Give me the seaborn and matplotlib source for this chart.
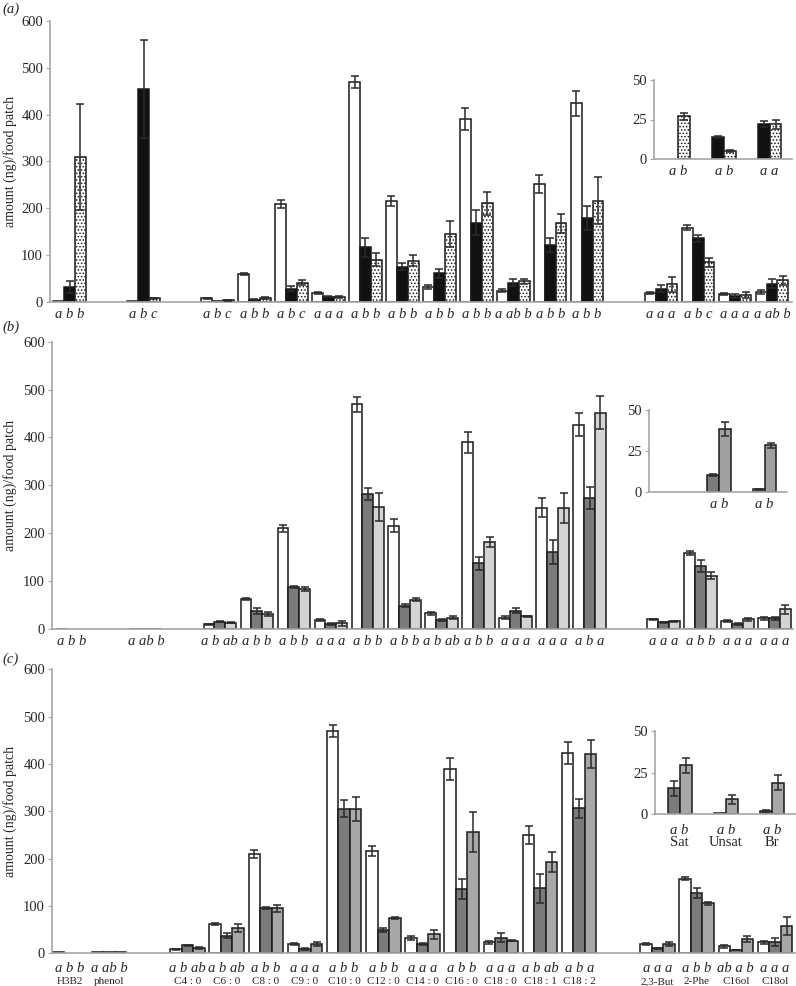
import numpy as np
import pandas as pd
import seaborn as sns
import matplotlib
matplotlib.use("agg")
import matplotlib.pyplot as plt

sns.set_style("white")
plt.rcParams["font.family"] = "serif"
plt.rcParams["font.serif"] = ["Liberation Serif", "DejaVu Serif"]
plt.rcParams["hatch.linewidth"] = 0.7

compounds = ["H3B2", "phenol", "C4 : 0", "C6 : 0", "C8 : 0", "C9 : 0", "C10 : 0",
             "C12 : 0", "C14 : 0", "C16 : 0", "C18 : 0", "C18 : 1", "C18 : 2",
             "2,3-But", "2-Phe", "C16ol", "C18ol"]
# empty slots between the compound blocks
order_ab = compounds[:1] + ["gap1"] + compounds[1:2] + ["gap2"] + compounds[2:13] + ["gap3"] + compounds[13:]
order_c = compounds[:2] + ["gap2"] + compounds[2:13] + ["gap3"] + compounds[13:]
groups = ["Sat", "Unsat", "Br"]
series = ["s1", "s2", "s3"]

# panel (a)
a_vals = {
    "s1": [2, 2, 9, 61, 210, 19, 470, 216, 32, 390, 25, 252, 424, 20, 159, 18, 22],
    "s2": [32, 455, 2, 5, 29, 12, 117, 76, 62, 170, 42, 122, 180, 29, 136, 13, 40],
    "s3": [310, 9, 4, 9, 42, 12, 91, 89, 145, 211, 45, 168, 216, 38, 85, 15, 47],
}
a_errs = {
    "s1": [0, 0, 1, 2, 9, 2, 13, 11, 4, 23, 4, 19, 26, 2, 5, 2, 4],
    "s2": [13, 104, 0, 1, 5, 1, 21, 8, 10, 26, 8, 15, 26, 8, 7, 4, 10],
    "s3": [113, 1, 1, 2, 5, 2, 14, 12, 28, 25, 5, 21, 50, 15, 10, 6, 10],
}
a_letters = ["a b b", "a b c", "a b c", "a b b", "a b c", "a a a", "a b b", "a b b", "a b b",
             "a b b", "a ab b", "a b b", "a b b", "a a a", "a b c", "a a a", "a ab b"]

# panel (b)
b_vals = {
    "s1": [1, 1, 10, 63, 210, 19, 469, 216, 33, 390, 24, 253, 427, 20, 159, 17, 22],
    "s2": [np.nan, 1, 15, 37, 88, 10, 282, 49, 18, 137, 38, 160, 273, 14, 132, 10, 22],
    "s3": [np.nan, 1, 13, 31, 83, 12, 255, 61, 24, 182, 27, 253, 452, 16, 111, 20, 41],
}
b_errs = {
    "s1": [0, 0, 1, 2, 8, 2, 15, 13, 3, 22, 4, 20, 24, 1.5, 4, 2, 4],
    "s2": [0, 0, 1, 6, 2, 2, 13, 4, 2, 13, 5, 25, 23, 1, 13, 2, 4],
    "s3": [0, 0, 1, 4, 4, 5, 30, 3, 3, 10, 1, 32, 35, 1, 7, 4, 10],
}
b_letters = ["a b b", "a ab b", "a b ab", "a b b", "a b b", "a a a", "a b b", "a b b", "a b ab",
             "a b b", "a a a", "a a a", "a b a", "a a a", "a b b", "a a a", "a a a"]

# panel (c)
c_vals = {
    "s1": [2, 2, 9, 62, 210, 19, 470, 216, 32, 389, 23, 250, 423, 19, 158, 15, 23],
    "s2": [np.nan, 2, 17, 37, 95, 10, 305, 49, 20, 135, 33, 137, 306, 11, 127, 7, 24],
    "s3": [np.nan, 2, 12, 53, 95, 19, 305, 74, 40, 256, 27, 192, 421, 20, 106, 30, 58],
}
c_errs = {
    "s1": [0, 0, 1, 2, 9, 2, 13, 11, 4, 23, 3, 20, 23, 2, 4, 3, 3],
    "s2": [0, 0, 1, 5, 2, 2, 18, 5, 2, 21, 10, 30, 20, 1, 10, 1, 8],
    "s3": [0, 0, 2, 8, 7, 4, 25, 2, 10, 42, 2, 21, 30, 4, 3, 6, 19],
}
c_letters = ["a b b", "a ab b", "a b ab", "a b ab", "a b b", "a a a", "a b b", "a b b", "a a a",
             "a b b", "a a a", "a b ab", "a b a", "a a a", "a b b", "ab a b", "a a a"]

# insets (totals)
ia_vals = {"s2": [np.nan, 14, 22], "s3": [27, 5, 22]}
ia_errs = {"s2": [0, 0.5, 2], "s3": [2, 0.5, 3]}
ia_letters = ["a b", "a b", "a a"]
ib_vals = {"s2": [np.nan, 10.4, 1.6], "s3": [np.nan, 38.4, 28.4]}
ib_errs = {"s2": [0, 0.5, 0.3], "s3": [0, 4, 1.5]}
ib_letters = ["", "a b", "a b"]
ic_vals = {"s2": [15.5, 0.8, 1.8], "s3": [29.3, 8.8, 18.9]}
ic_errs = {"s2": [4.5, 0, 0.5], "s3": [4.5, 2.5, 4.5]}
ic_letters = ["a b", "a b", "a b"]

W, H = 796, 986
SPINE = "#a6a6a6"


def px_axes(fig, left, right, top, bottom):
    return fig.add_axes([left / W, 1 - bottom / H, (right - left) / W, (bottom - top) / H])


def draw_bars(ax, order, names, vals, errs, palette, hue_order, width, hatch=None):
    rows = []
    for s in hue_order:
        for name, v in zip(names, vals[s]):
            if not np.isnan(v):
                rows.append({"compound": name, "series": s, "value": v})
    df = pd.DataFrame(rows)
    sns.barplot(data=df, x="compound", y="value", hue="series", order=order,
                hue_order=hue_order, palette=palette, width=width, errorbar=None,
                edgecolor="#1a1a1a", linewidth=1.1, legend=False, ax=ax)
    for cont, s in zip(ax.containers, hue_order):
        for bar in cont:
            cx = bar.get_x() + bar.get_width() / 2
            name = order[int(round(cx))]
            e = errs[s][names.index(name)]
            if hatch is not None and s == hatch:
                bar.set_hatch(".....")
            if e > 0:
                ax.errorbar(cx, bar.get_height(), yerr=e, fmt="none", ecolor="#2a2a2a",
                            elinewidth=1.1, capsize=3, capthick=1.1, zorder=5)
    for side in ["top", "right"]:
        ax.spines[side].set_visible(False)
    for side in ["left", "bottom"]:
        ax.spines[side].set_color(SPINE)
        ax.spines[side].set_linewidth(1.2)
    ax.set_xlabel("")
    ax.set_ylabel("")
    ax.set_xticks([])
    ax.tick_params(axis="y", left=True, length=3, color=SPINE, labelsize=10.5, pad=2)


def put_letters(ax, order, names, letters, dy, size=10.5):
    for name, txt in zip(names, letters):
        ax.annotate(txt, xy=(order.index(name), 0), xycoords=("data", "axes fraction"),
                    xytext=(0, dy), textcoords="offset points", ha="center", va="top",
                    fontsize=size, fontstyle="italic")


fig = plt.figure(figsize=(W / 100, H / 100), dpi=100)

panels = [
    ("(a)", (50, 792, 20.7, 302.3), (-0.53, 19.54), order_ab, a_vals, a_errs, a_letters,
     ["white", "#111111", "white"], "s3", 3),
    ("(b)", (52, 793, 341.7, 629), (-0.54, 19.5), order_ab, b_vals, b_errs, b_letters,
     ["white", "#7b7b7b", "#d4d4d4"], None, 321),
    ("(c)", (52, 795, 669.3, 953.3), (-0.46, 18.51), order_c, c_vals, c_errs, c_letters,
     ["white", "#7b7b7b", "#a8a8a8"], None, 653),
]
for label, (l, r, t, b), xlim, order, vals, errs, letters, cols, hatch, ly in panels:
    ax = px_axes(fig, l, r, t, b)
    draw_bars(ax, order, compounds, vals, errs, dict(zip(series, cols)), series, 0.88, hatch)
    ax.set_ylim(0, 600)
    ax.set_yticks(range(0, 601, 100))
    ax.set_xlim(*xlim)
    put_letters(ax, order, compounds, letters, -4 if label != "(c)" else -6)
    fig.text(10 / W, 1 - (t + b) / 2 / H, "amount (ng)/food patch", rotation=90,
             ha="center", va="center", fontsize=10)
    fig.text(2 / W, 1 - ly / H, label, ha="left", va="top", fontsize=10.5, fontstyle="italic")
    if label == "(c)":
        for name in compounds:
            ax.annotate(name, xy=(order.index(name), 0), xycoords=("data", "axes fraction"),
                        xytext=(0, -17), textcoords="offset points", ha="center", va="top",
                        fontsize=8)

insets = [
    ((654, 792, 80, 159), ia_vals, ia_errs, ia_letters, ["#111111", "white"], "s3", -4),
    ((649, 787, 410, 492), ib_vals, ib_errs, ib_letters, ["#7b7b7b", "#a0a0a0"], None, -4),
    ((655, 795, 731, 814), ic_vals, ic_errs, ic_letters, ["#7b7b7b", "#a8a8a8"], None, -7),
]
for i, ((l, r, t, b), vals, errs, letters, cols, hatch, dy) in enumerate(insets):
    ax = px_axes(fig, l, r, t, b)
    draw_bars(ax, groups, groups, vals, errs, dict(zip(["s2", "s3"], cols)), ["s2", "s3"],
              0.52, hatch)
    ax.set_ylim(0, 50)
    ax.set_yticks([0, 25, 50])
    ax.set_xlim(-0.53, 2.49)
    ax.patch.set_alpha(0)
    put_letters(ax, groups, groups, letters, dy)
    if i == 2:
        for name in groups:
            ax.annotate(name, xy=(groups.index(name), 0), xycoords=("data", "axes fraction"),
                        xytext=(0, -16), textcoords="offset points", ha="center", va="top",
                        fontsize=10.5)

plt.savefig("out.png", dpi=100)
